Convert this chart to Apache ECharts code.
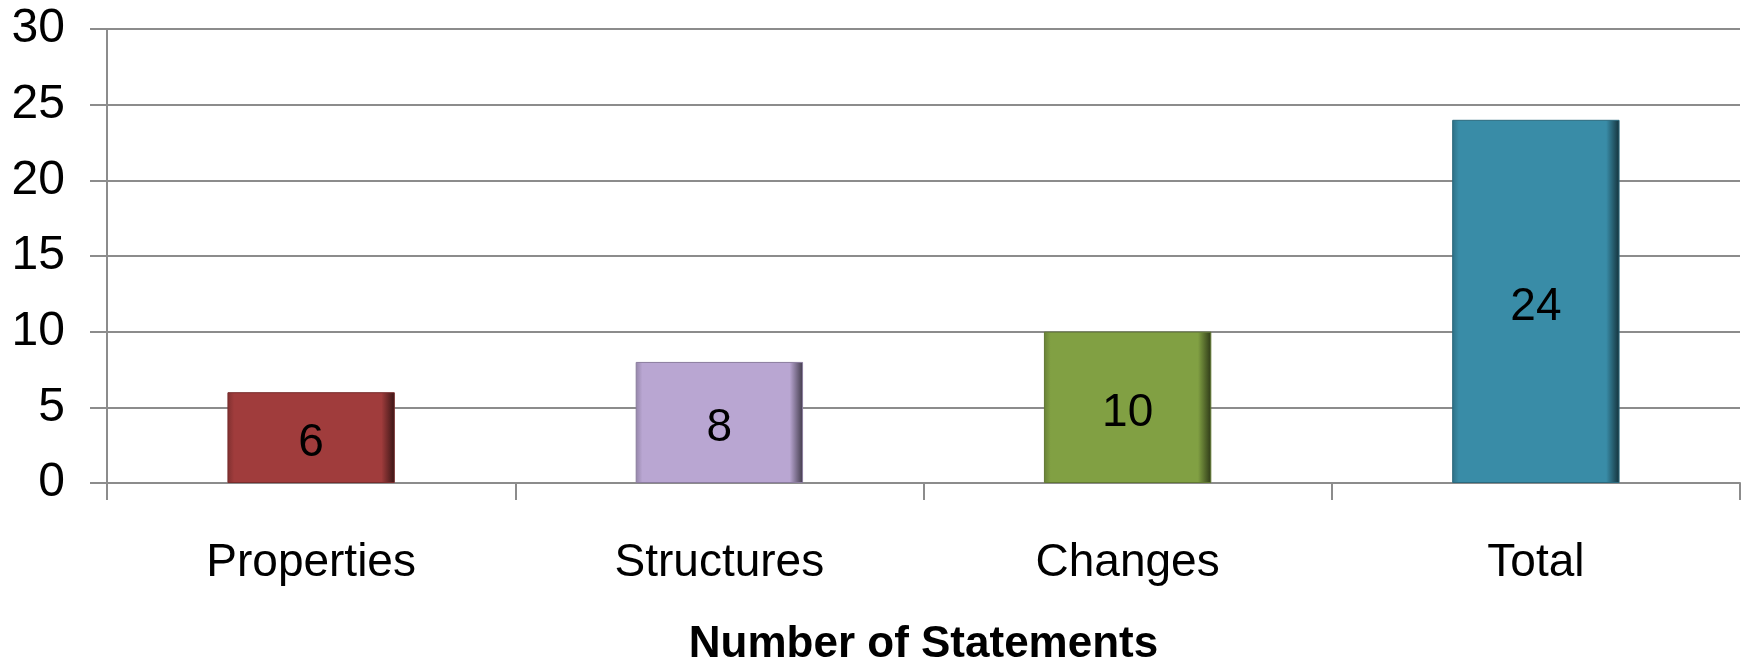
<!DOCTYPE html>
<html lang="en">
<head>
    <meta charset="UTF-8">
    <title>Number of Statements</title>
    <script src="https://cdn.jsdelivr.net/npm/echarts@6/dist/echarts.min.js"></script>
    <style>
        html, body { margin: 0; padding: 0; background: #fff; }
        #chart { width: 1750px; height: 660px; }
    </style>
</head>
<body>
<div id="chart"></div>
<script type="text/javascript">
    var categories = ['Properties', 'Structures', 'Changes', 'Total'];
    var counts = [6, 8, 10, 24];
    var yTicks = [0, 5, 10, 15, 20, 25, 30];
    var barColors = ['#a03c3c', '#b9a6d2', '#81a043', '#398ca7'];

    // scale rgb channels: k < 1 darker, k > 1 lighter
    function shade(hex, k) {
        var n = parseInt(hex.slice(1), 16);
        var r = (n >> 16) & 255, g = (n >> 8) & 255, b = n & 255;
        function f(v) { return Math.max(0, Math.min(255, Math.round(k < 1 ? v * k : v + (255 - v) * (k - 1)))); }
        return 'rgb(' + f(r) + ',' + f(g) + ',' + f(b) + ')';
    }

    // fake the bevel with a horizontal gradient (light left edge, dark right edge)
    function bevel(c) {
        return new echarts.graphic.LinearGradient(0, 0, 1, 0, [
            { offset: 0, color: shade(c, 0.8) },
            { offset: 0.04, color: c },
            { offset: 0.92, color: c },
            { offset: 1, color: shade(c, 0.35) }
        ]);
    }

    var barData = [];
    for (var i = 0; i < counts.length; i++) {
        barData.push({
            value: counts[i],
            itemStyle: {
                color: bevel(barColors[i]),
                borderColor: shade(barColors[i], 0.75),
                borderWidth: 1
            }
        });
    }

    var myChart = echarts.init(document.getElementById('chart'));
    var option = {
        animation: false,
        grid: {
            left: 107,
            right: 10,
            top: 29,
            bottom: 177,
            outerBoundsMode: 'none'
        },
        xAxis: {
            type: 'category',
            data: categories,
            name: 'Number of Statements',
            nameLocation: 'middle',
            nameGap: 140,
            nameTextStyle: {
                fontFamily: 'Liberation Sans',
                fontWeight: 'bold',
                fontSize: 44,
                color: '#000'
            },
            axisLine: { lineStyle: { color: '#8c8c8c', width: 2 } },
            axisTick: { show: true, length: 17, lineStyle: { color: '#8c8c8c', width: 2 } },
            axisLabel: {
                margin: 57,
                fontFamily: 'Liberation Sans',
                fontSize: 46,
                color: '#000'
            }
        },
        yAxis: {
            type: 'value',
            min: yTicks[0],
            max: yTicks[yTicks.length - 1],
            interval: 5,
            axisLine: { show: true, lineStyle: { color: '#8c8c8c', width: 2 } },
            axisTick: { show: true, length: 17, lineStyle: { color: '#8c8c8c', width: 2 } },
            splitLine: { lineStyle: { color: '#8c8c8c', width: 2 } },
            axisLabel: {
                margin: 42,
                fontFamily: 'Liberation Sans',
                fontSize: 48,
                color: '#000'
            }
        },
        series: [{
            type: 'bar',
            barWidth: '41%',
            data: barData,
            label: {
                show: true,
                position: 'inside',
                offset: [0, 6],
                fontFamily: 'Liberation Sans',
                fontSize: 46,
                color: '#000'
            }
        }]
    };
    myChart.setOption(option);
</script>
</body>
</html>
